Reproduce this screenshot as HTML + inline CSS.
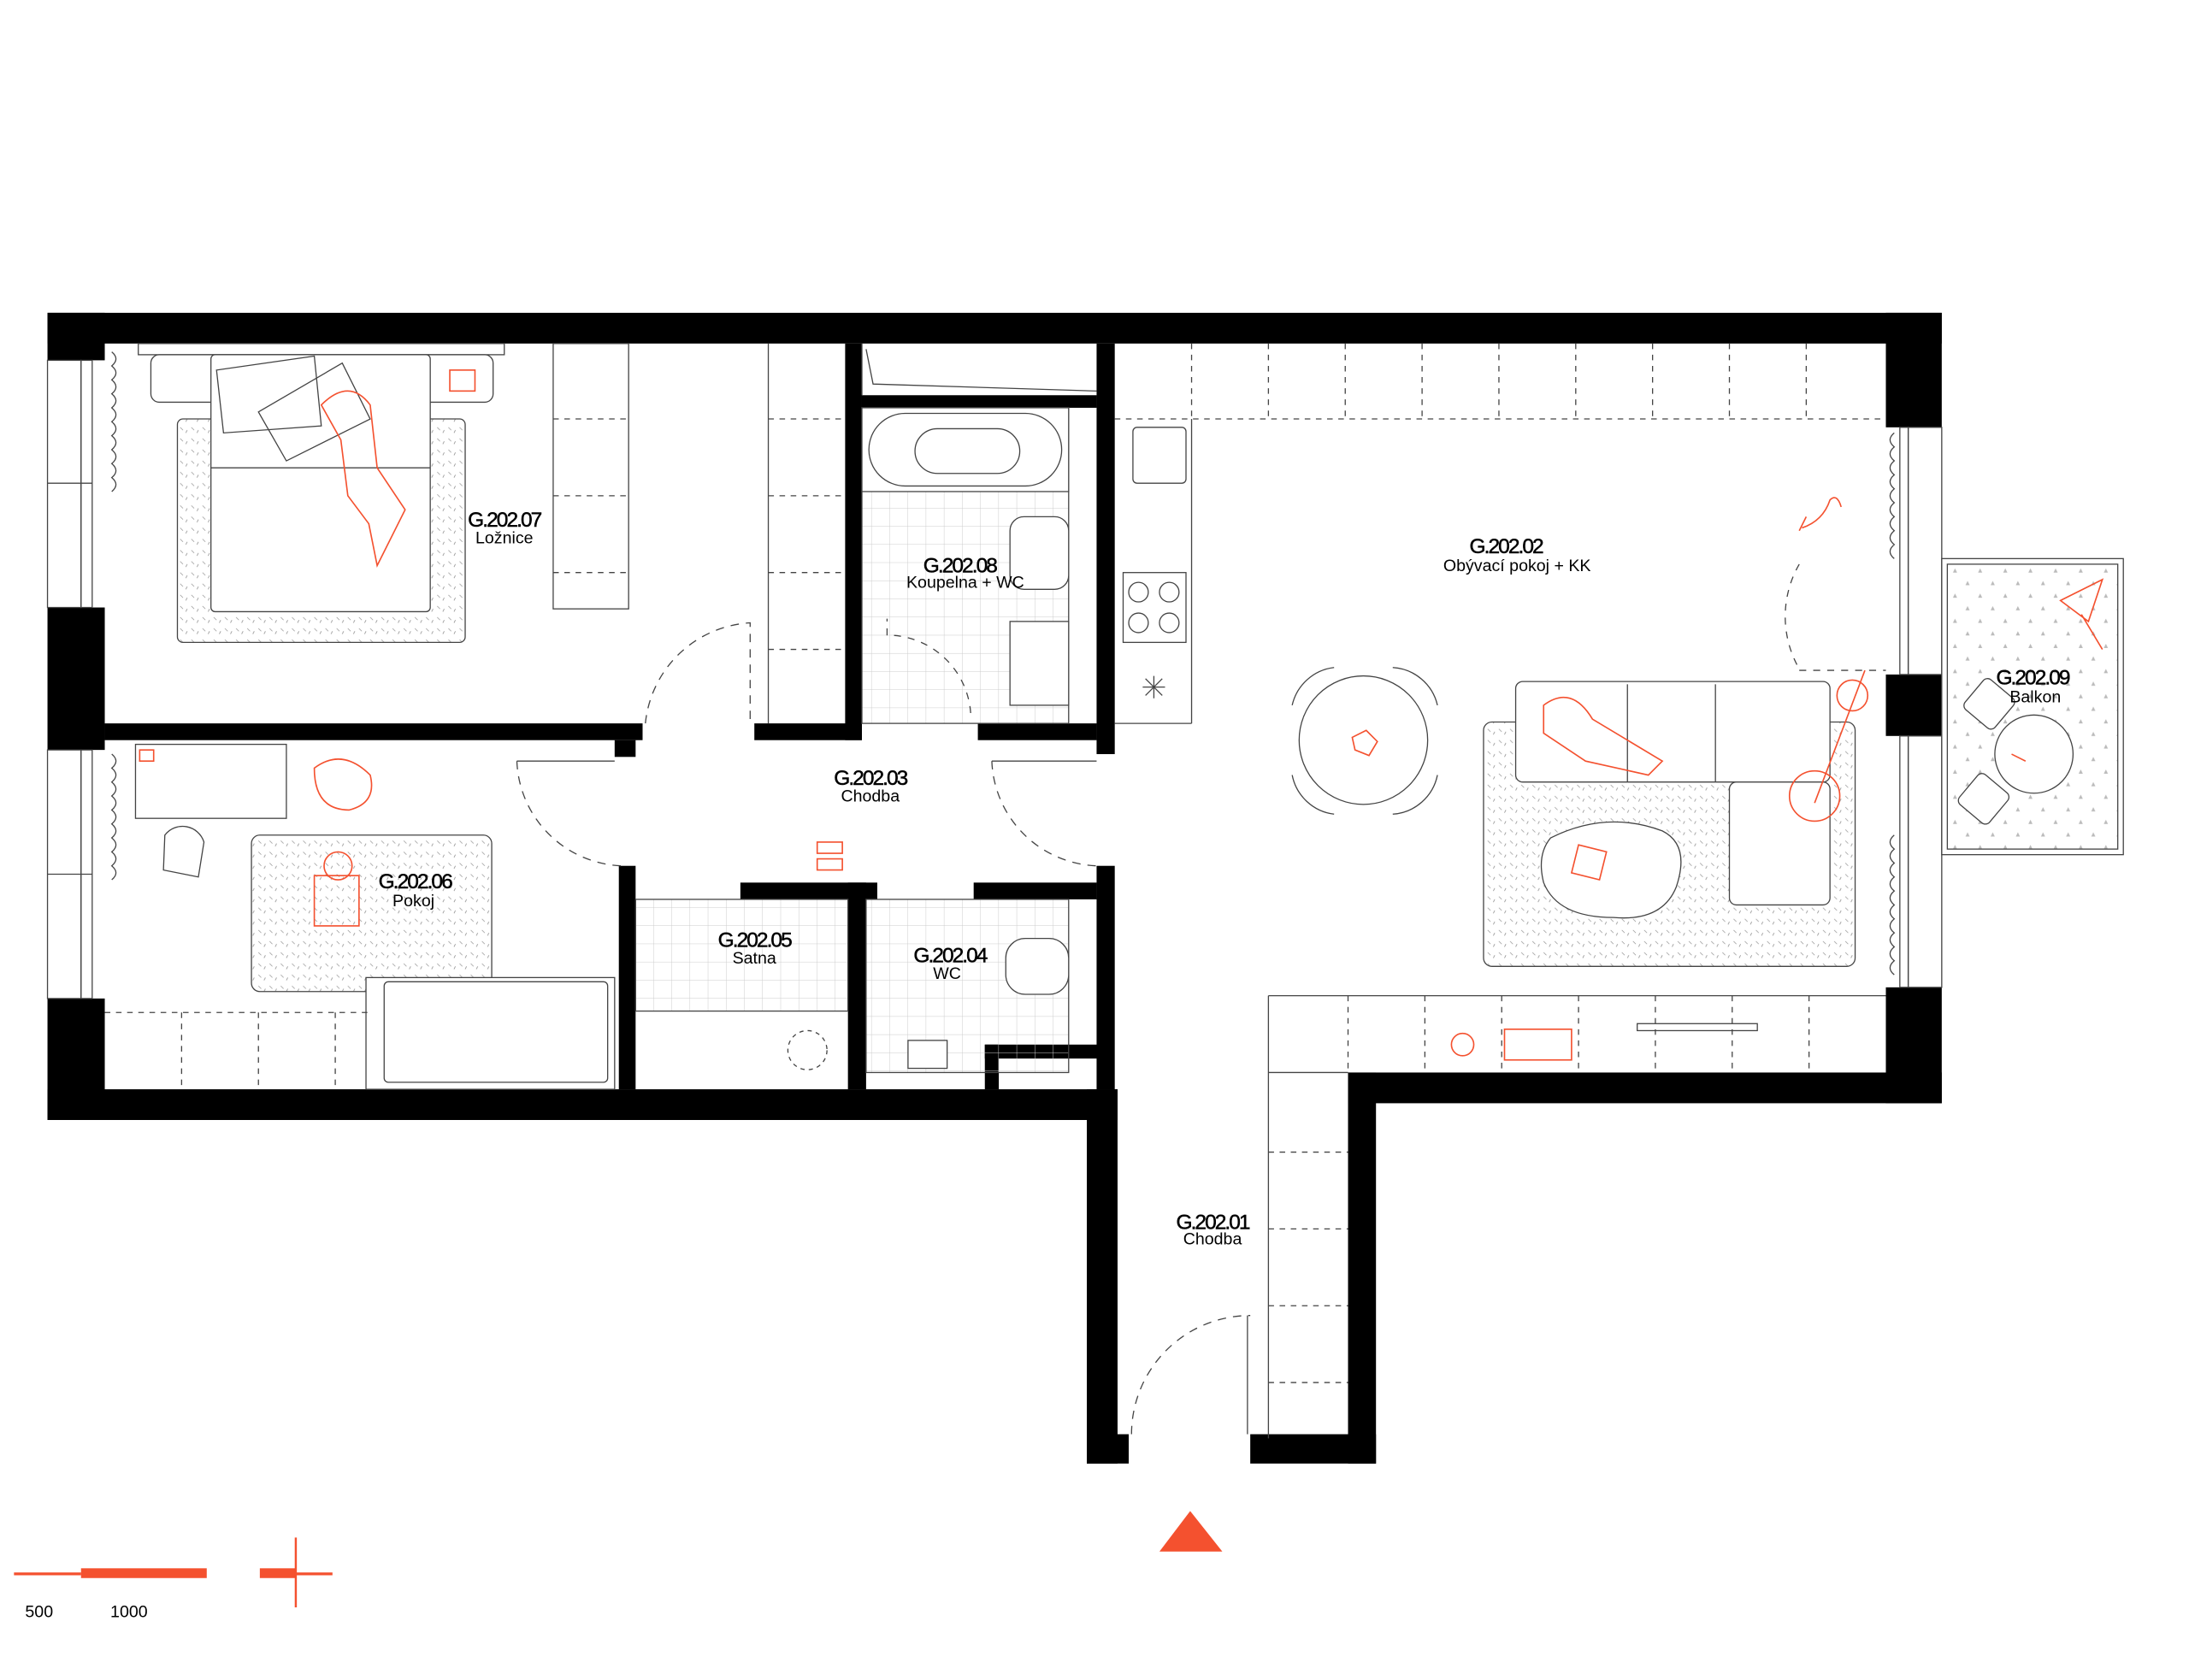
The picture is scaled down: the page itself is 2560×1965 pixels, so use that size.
<!DOCTYPE html>
<html><head><meta charset="utf-8"><style>
html,body{margin:0;padding:0;background:#fff}
svg{display:block}
text{font-family:"Liberation Sans",sans-serif;fill:#000}
.t{font-size:15px;letter-spacing:-1.2px;stroke:#000;stroke-width:.3}
.s{font-size:12px}
</style></head><body>
<svg width="2560" height="1965" viewBox="0 0 1567 1203" preserveAspectRatio="none" xmlns="http://www.w3.org/2000/svg">
<rect width="1567" height="1203" fill="#fff"/>
<defs>
<pattern id="dots" width="8" height="8" patternUnits="userSpaceOnUse"><path d="M1 2l2 2M5 6l1 -2" stroke="#999" stroke-width=".5"/></pattern>
<pattern id="tri" width="18" height="18" patternUnits="userSpaceOnUse"><path d="M3 5l3 0l-1.5 -3z M12 14l3 0l-1.5-3z" fill="#bbb"/></pattern>
<pattern id="grid" width="13" height="13" patternUnits="userSpaceOnUse"><path d="M13 0V13H0" fill="none" stroke="#ccc" stroke-width=".6"/></pattern>
</defs>
<g fill="#000">
<rect x="34" y="224" width="1356" height="22"/>
<rect x="34" y="224" width="41" height="34"/>
<rect x="34" y="435" width="41" height="102"/>
<rect x="34" y="715" width="41" height="87"/>
<rect x="34" y="780" width="766" height="22"/>
<rect x="1350" y="224" width="40" height="82"/>
<rect x="1350" y="483" width="40" height="44"/>
<rect x="1350" y="707" width="40" height="83"/>
<rect x="965" y="768" width="425" height="22"/>
<rect x="965" y="768" width="20" height="280"/>
<rect x="895" y="1027" width="90" height="21"/>
<rect x="778" y="780" width="22" height="268"/>
<rect x="778" y="1027" width="30" height="21"/>
<rect x="75" y="518" width="385" height="12"/>
<rect x="540" y="518" width="77" height="12"/>
<rect x="605" y="246" width="12" height="284"/>
<rect x="785" y="246" width="13" height="294"/>
<rect x="617" y="283" width="168" height="9"/>
<rect x="700" y="518" width="85" height="12"/>
<rect x="440" y="530" width="15" height="12"/>
<rect x="785" y="620" width="13" height="160"/>
<rect x="443" y="620" width="12" height="160"/>
<rect x="530" y="632" width="98" height="12"/>
<rect x="607" y="632" width="13" height="148"/>
<rect x="697" y="632" width="88" height="12"/>
<rect x="705" y="748" width="85" height="10"/>
<rect x="705" y="748" width="10" height="32"/>
</g>
<g fill="none" stroke="#444" stroke-width=".8">
<rect x="34" y="258" width="24" height="177"/><rect x="58" y="258" width="8" height="177"/><line x1="34" y1="346" x2="66" y2="346"/>
<rect x="34" y="537" width="24" height="178"/><rect x="58" y="537" width="8" height="178"/><line x1="34" y1="626" x2="66" y2="626"/>
<rect x="1366" y="306" width="24" height="177"/><rect x="1360" y="306" width="6" height="177"/>
<rect x="1366" y="527" width="24" height="180"/><rect x="1360" y="527" width="6" height="180"/>
<path d="M80 252 q6 5 0 10 q6 5 0 10 q6 5 0 10 q6 5 0 10 q6 5 0 10 q6 5 0 10 q6 5 0 10 q6 5 0 10 q6 5 0 10 q6 5 0 10"/>
<path d="M80 540 q6 5 0 10 q6 5 0 10 q6 5 0 10 q6 5 0 10 q6 5 0 10 q6 5 0 10 q6 5 0 10 q6 5 0 10 q6 5 0 10"/>
<path d="M1356 310 q-6 5 0 10 q-6 5 0 10 q-6 5 0 10 q-6 5 0 10 q-6 5 0 10 q-6 5 0 10 q-6 5 0 10 q-6 5 0 10 q-6 5 0 10"/>
<path d="M1356 598 q-6 5 0 10 q-6 5 0 10 q-6 5 0 10 q-6 5 0 10 q-6 5 0 10 q-6 5 0 10 q-6 5 0 10 q-6 5 0 10 q-6 5 0 10 q-6 5 0 10"/>
<rect x="99" y="246" width="262" height="8"/>
<rect x="108" y="254" width="245" height="34" rx="6"/>
<rect x="127" y="300" width="206" height="160" rx="4" fill="url(#dots)"/>
<rect x="151" y="254" width="157" height="184" rx="3" fill="#fff"/>
<line x1="151" y1="335" x2="308" y2="335"/>
<path d="M155 265l70 -10 5 50 -70 5z M185 295 l60 -35 20 40 -60 30z"/>
<rect x="396" y="246" width="54" height="190"/>
<line x1="550" y1="246" x2="550" y2="518"/>
<line x1="617" y1="246" x2="617" y2="283"/><path d="M620 250l5 25 160 5"/>
<rect x="617" y="292" width="148" height="226" fill="url(#grid)"/>
<rect x="617" y="292" width="148" height="60" fill="#fff"/>
<rect x="622" y="296" width="138" height="52" rx="26"/>
<rect x="655" y="307" width="75" height="32" rx="16"/>
<rect x="723" y="370" width="42" height="52" rx="10" fill="#fff"/>
<rect x="723" y="445" width="42" height="60" fill="#fff"/>
<path d="M635 455v-12 M640 455 a60 60 0 0 1 55 60" stroke-dasharray="5 5"/>
<line x1="798" y1="300" x2="1350" y2="300" stroke-dasharray="4 4"/>
<line x1="853" y1="300" x2="853" y2="518"/>
<line x1="798" y1="518" x2="853" y2="518"/>
<rect x="811" y="306" width="38" height="40" rx="3"/>
<rect x="804" y="410" width="45" height="50"/>
<circle cx="815" cy="424" r="7"/><circle cx="837" cy="424" r="7"/><circle cx="815" cy="446" r="7"/><circle cx="837" cy="446" r="7"/>
<path d="M818 492h16M826 484v16M820 486l12 12M832 486l-12 12"/>
<circle cx="976" cy="530" r="46"/>
<path d="M925 505 a35 35 0 0 1 30 -27 M997 478 a35 35 0 0 1 32 27 M925 555 a35 35 0 0 0 30 28 M997 583 a35 35 0 0 0 32 -28"/>
<rect x="1062" y="517" width="266" height="175" rx="6" fill="url(#dots)"/>
<rect x="1085" y="488" width="225" height="72" rx="5" fill="#fff"/>
<rect x="1238" y="560" width="72" height="88" rx="5" fill="#fff"/>
<path d="M1165 490v70 M1228 490v70"/>
<path d="M1110 600 q40 -20 80 -5 q20 10 10 40 q-10 25 -45 22 q-40 0 -50 -25 q-5 -20 5 -32z" fill="#fff"/>
<path d="M1288 404 a75 75 0 0 0 -0 75 M1288 480 h62" stroke-dasharray="5 5"/>
<rect x="1390" y="400" width="130" height="212"/>
<rect x="1394" y="404" width="122" height="204" fill="url(#tri)"/>
<circle cx="1456" cy="540" r="28" fill="#fff"/>
<rect x="1410" y="490" width="28" height="28" rx="4" transform="rotate(40 1424 504)" fill="#fff"/>
<rect x="1406" y="558" width="28" height="28" rx="4" transform="rotate(40 1420 572)" fill="#fff"/>
<path d="M462 518 a80 80 0 0 1 75 -72 V518" stroke-dasharray="6 5"/>
<path d="M370 545 a78 78 0 0 0 75 75" stroke-dasharray="6 5"/>
<path d="M710 545 a78 78 0 0 0 75 75" stroke-dasharray="6 5"/>
<line x1="370" y1="545" x2="440" y2="545"/><line x1="710" y1="545" x2="785" y2="545"/>
<path d="M810 1027 a85 85 0 0 1 85 -85" stroke-dasharray="6 5"/>
<line x1="893" y1="942" x2="893" y2="1027"/>
<rect x="97" y="533" width="108" height="53"/>
<rect x="180" y="598" width="172" height="112" rx="6" fill="url(#dots)"/>
<rect x="262" y="700" width="178" height="80" fill="#fff"/>
<rect x="275" y="703" width="160" height="72" rx="3"/>
<path d="M75 725h188 M130 725v55 M185 725v55 M240 725v55" stroke-dasharray="4 4"/>
<path d="M118 598 a16 16 0 0 1 28 5 l-4 25 -25 -5z"/>
<rect x="455" y="644" width="152" height="80" fill="url(#grid)"/>
<rect x="620" y="644" width="145" height="124" fill="url(#grid)"/>
<rect x="720" y="672" width="45" height="40" rx="14" fill="#fff"/>
<rect x="650" y="745" width="28" height="20" fill="#fff"/>
<circle cx="578" cy="752" r="14" stroke-dasharray="3 3"/>
<path d="M908 713v317 M908 713h442 M908 768h57" />
<path d="M965 713v55 M1020 713v55 M1075 713v55 M1130 713v55 M1185 713v55 M1240 713v55 M1295 713v55 M908 825h57 M908 880h57 M908 935h57 M908 990h57" stroke-dasharray="4 4"/>
<path d="M853 246v54 M908 246v54 M963 246v54 M1018 246v54 M1073 246v54 M1128 246v54 M1183 246v54 M1238 246v54 M1293 246v54 M550 300h55 M550 355h55 M550 410h55 M550 465h55 M396 300h54 M396 355h54 M396 410h54" stroke-dasharray="4 4"/>
<rect x="1172" y="733" width="86" height="5"/>
</g>
<g fill="none" stroke="#f4512f" stroke-width="1">
<path d="M230 290 q20 -20 35 0 l5 45 20 30 -20 40 -6 -30 -15 -20 -5 -40z"/>
<rect x="322" y="265" width="18" height="15"/>
<path d="M225 550 q20 -15 40 5 q5 20 -15 25 q-25 0 -25 -30z"/>
<rect x="225" y="627" width="32" height="36"/>
<circle cx="242" cy="620" r="10"/>
<path d="M1105 505 q20 -15 35 10 l50 30 -10 10 -45 -10 -30 -20z"/>
<circle cx="1326" cy="498" r="11"/><circle cx="1299" cy="570" r="18"/><line x1="1299" y1="575" x2="1335" y2="480"/>
<path d="M1290 378 q15 -5 20 -20 q5 -5 8 5 M1288 380l5 -10"/>
<path d="M1475 430 l30 -15 -10 30 z M1490 440 l15 25"/>
<rect x="1077" y="737" width="48" height="22"/>
<circle cx="1047" cy="748" r="8"/>
<path d="M1130 605l20 5-5 20-20-5z"/>
<path d="M585 603h18v8h-18z M585 615h18v8h-18z"/>
<path d="M968 528l10 -5 8 8 -6 10 -10 -4z M1440 540l10 5"/>
<path d="M100 537h10v8h-10z"/>
</g>
<g text-anchor="middle">
<text class="t" x="361" y="377">G.202.07</text><text class="s" x="361" y="389">Ložnice</text>
<text class="t" x="687" y="410">G.202.08</text><text class="s" x="691" y="421">Koupelna + WC</text>
<text class="t" x="1078" y="396">G.202.02</text><text class="s" x="1086" y="409">Obývací pokoj + KK</text>
<text class="t" x="623" y="562">G.202.03</text><text class="s" x="623" y="574">Chodba</text>
<text class="t" x="297" y="636">G.202.06</text><text class="s" x="296" y="649">Pokoj</text>
<text class="t" x="540" y="678">G.202.05</text><text class="s" x="540" y="690">Satna</text>
<text class="t" x="680" y="689">G.202.04</text><text class="s" x="678" y="701">WC</text>
<text class="t" x="868" y="880">G.202.01</text><text class="s" x="868" y="891">Chodba</text>
<text class="t" x="1455" y="490">G.202.09</text><text class="s" x="1457" y="503">Balkon</text>
</g>
<rect x="10" y="1126" width="48" height="2" fill="#f4512f"/>
<rect x="58" y="1123" width="90" height="7" fill="#f4512f"/>
<rect x="186" y="1123" width="26" height="7" fill="#f4512f"/>
<rect x="212" y="1126" width="26" height="2" fill="#f4512f"/>
<rect x="211" y="1101" width="1.5" height="50" fill="#f4512f"/>
<text x="18" y="1158" font-size="12">500</text><text x="79" y="1158" font-size="12">1000</text>
<polygon points="852,1082 830,1111 875,1111" fill="#f4512f"/>
</svg>
</body></html>
